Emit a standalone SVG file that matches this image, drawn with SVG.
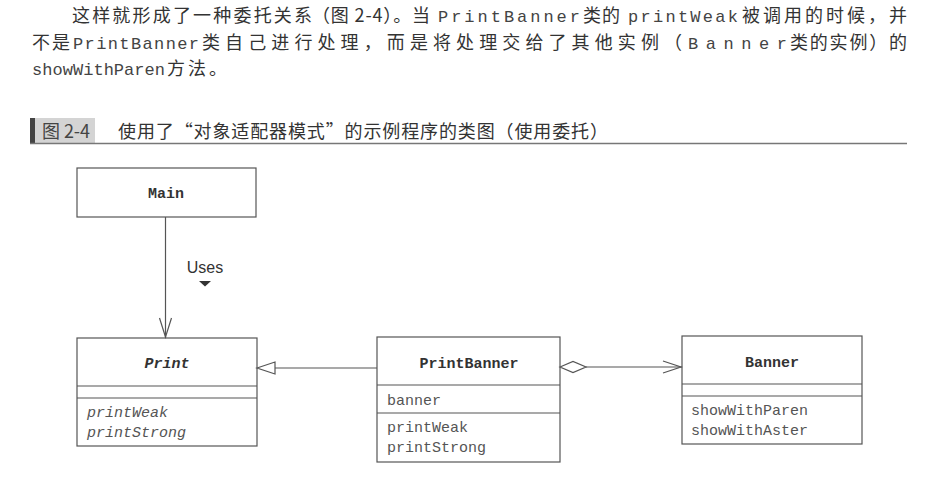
<svg xmlns="http://www.w3.org/2000/svg" width="943" height="492" viewBox="0 0 943 492">
<style>
.cjk{font-family:"Noto Sans CJK SC","Noto Sans CJK JP",sans-serif;font-size:18px;fill:#333}
.mono{font-family:"Liberation Mono","DejaVu Sans Mono",monospace;font-size:17px;fill:#444}
.box{fill:#fff;stroke:#555;stroke-width:1.2}
.sep{stroke:#555;stroke-width:1.2}
.cls{font-family:"Liberation Mono",monospace;font-size:15px;font-weight:bold;fill:#333;text-anchor:middle}
.mem{font-family:"Liberation Mono",monospace;font-size:15px;fill:#555}
.it{font-style:italic}
.conn{stroke:#555;stroke-width:1.2;fill:none}
</style>
<rect width="943" height="492" fill="#fff"/>
<g id="paragraph">
<text class="cjk" x="72" y="22" textLength="240" lengthAdjust="spacing">这样就形成了一种委托关系</text>
<text class="cjk" x="312" y="22" textLength="118" lengthAdjust="spacing">（图 2-4）。当</text>
<text class="mono" x="438" y="22" textLength="142" lengthAdjust="spacing">PrintBanner</text>
<text class="cjk" x="583" y="22" textLength="37" lengthAdjust="spacing">类的</text>
<text class="mono" x="628" y="22" textLength="110" lengthAdjust="spacing">printWeak</text>
<text class="cjk" x="742" y="22" textLength="165" lengthAdjust="spacing">被调用的时候，并</text>
<text class="cjk" x="32" y="49" textLength="38" lengthAdjust="spacing">不是</text>
<text class="mono" x="73" y="49" textLength="126" lengthAdjust="spacing">PrintBanner</text>
<text class="cjk" x="202" y="49" textLength="480" lengthAdjust="spacing">类自己进行处理，而是将处理交给了其他实例（</text>
<text class="mono" x="688" y="49" textLength="99" lengthAdjust="spacing">Banner</text>
<text class="cjk" x="790" y="49" textLength="117" lengthAdjust="spacing">类的实例）的</text>
<text class="mono" x="32" y="75" textLength="133" lengthAdjust="spacing">showWithParen</text>
<text class="cjk" x="167" y="75" textLength="60" lengthAdjust="spacing">方法。</text>
</g>
<g id="caption">
<rect x="35" y="118" width="60" height="25" fill="#d4d4d4"/>
<rect x="30" y="118" width="5" height="25" fill="#444"/>
<text x="42" y="138" font-family="'Noto Sans CJK SC',sans-serif" font-size="18" fill="#444" textLength="48" lengthAdjust="spacing">图 2-4</text>
<text x="118" y="138" font-family="'Noto Sans CJK SC',sans-serif" font-size="18" fill="#333" textLength="490" lengthAdjust="spacing">使用了“对象适配器模式”的示例程序的类图（使用委托）</text>
<line x1="30" y1="143.5" x2="907" y2="143.5" stroke="#777" stroke-width="1.5"/>
</g>
<g id="Main">
<rect class="box" x="77" y="168" width="179" height="49"/>
<text class="cls" x="166" y="198">Main</text>
</g>
<g id="Print">
<rect class="box" x="77" y="338" width="180" height="108"/>
<line class="sep" x1="77" y1="386" x2="257" y2="386"/>
<line class="sep" x1="77" y1="398" x2="257" y2="398"/>
<text class="cls it" x="167" y="368">Print</text>
<text class="mem it" x="87" y="417">printWeak</text>
<text class="mem it" x="87" y="437">printStrong</text>
</g>
<g id="PrintBanner">
<rect class="box" x="377" y="337" width="183" height="125"/>
<line class="sep" x1="377" y1="385" x2="560" y2="385"/>
<line class="sep" x1="377" y1="413" x2="560" y2="413"/>
<text class="cls" x="469" y="368">PrintBanner</text>
<text class="mem" x="387" y="405">banner</text>
<text class="mem" x="387" y="432">printWeak</text>
<text class="mem" x="387" y="452">printStrong</text>
</g>
<g id="Banner">
<rect class="box" x="682" y="336" width="180" height="108"/>
<line class="sep" x1="682" y1="384" x2="862" y2="384"/>
<line class="sep" x1="682" y1="396" x2="862" y2="396"/>
<text class="cls" x="772" y="367">Banner</text>
<text class="mem" x="691" y="415">showWithParen</text>
<text class="mem" x="691" y="435">showWithAster</text>
</g>
<g id="connectors">
<line class="conn" x1="165.5" y1="217" x2="165.5" y2="338"/>
<polyline class="conn" points="159.5,318 165.5,337 171.5,318"/>
<text x="205" y="273" font-family="'Liberation Sans',Arial,sans-serif" font-size="16" fill="#333" text-anchor="middle">Uses</text>
<polygon points="199,281 211,281 205,286.5" fill="#333"/>
<line class="conn" x1="275" y1="368" x2="377" y2="368"/>
<polygon class="conn" points="257,368 275,362 275,374" fill="#fff"/>
<polygon class="conn" points="560,367 573,361.5 586,367 573,372.5" fill="#fff"/>
<line class="conn" x1="586" y1="367" x2="682" y2="367"/>
<polyline class="conn" points="663,361 681,367 663,373"/>
</g>
</svg>
